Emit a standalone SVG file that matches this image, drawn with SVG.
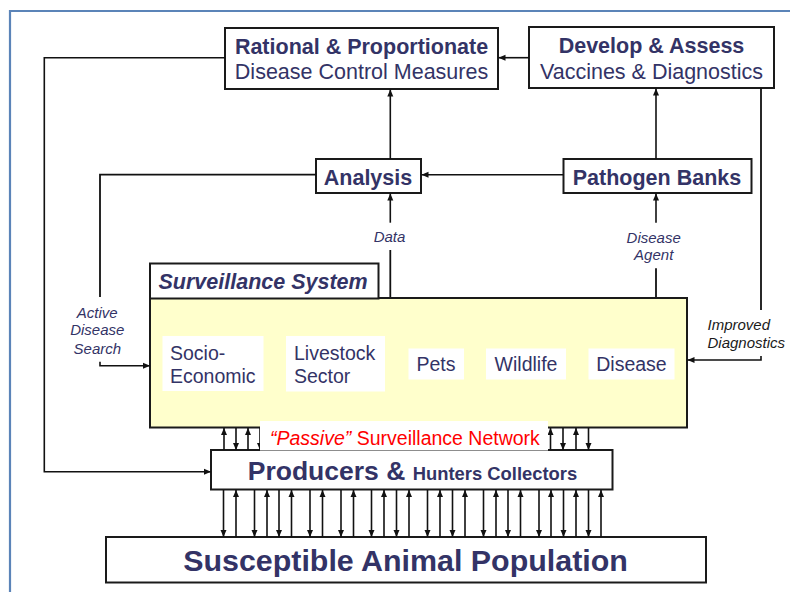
<svg xmlns="http://www.w3.org/2000/svg" width="790" height="592" viewBox="0 0 790 592">
<defs>
<style>
.box{fill:#fff;stroke:#1a1a1a;stroke-width:2}
.t{font-family:"Liberation Sans",Arial,sans-serif;fill:#333366}
.b{font-weight:bold}
.i{font-style:italic}
.big{font-size:21.5px}
.mid{font-size:19.5px}
.sm{font-size:15px}
.ln{fill:none;stroke:#111;stroke-width:1.8}
.ar{fill:none;stroke:#111;stroke-width:1.6;marker-end:url(#ah)}
</style>
<marker id="ah" markerUnits="userSpaceOnUse" markerWidth="8" markerHeight="7" refX="7" refY="3.5" orient="auto">
<path d="M0,0.5 L7,3.5 L0,6.5 z" fill="#111"/>
</marker>
</defs>
<rect width="790" height="592" fill="#fff"/>
<path d="M10,592 V11 H790" fill="none" stroke="#5B84B8" stroke-width="2.2"/>

<g id="rational">
<rect class="box" x="225" y="28" width="273" height="61"/>
<text class="t b big" x="361.5" y="53.5" text-anchor="middle">Rational &amp; Proportionate</text>
<text class="t big" x="361.5" y="79" text-anchor="middle">Disease Control Measures</text>
</g>
<g id="develop">
<rect class="box" x="529" y="27" width="245" height="61"/>
<text class="t b big" x="651.5" y="53" text-anchor="middle">Develop &amp; Assess</text>
<text class="t big" x="651.5" y="78.5" text-anchor="middle">Vaccines &amp; Diagnostics</text>
</g>
<g id="analysis">
<rect class="box" x="316" y="159" width="105" height="34"/>
<text class="t b big" x="368" y="184.5" text-anchor="middle">Analysis</text>
</g>
<g id="pathogen">
<rect class="box" x="563.5" y="159" width="188" height="34"/>
<text class="t b big" x="657" y="184.5" text-anchor="middle">Pathogen Banks</text>
</g>
<g id="surveillance">
<rect x="150" y="298" width="537" height="129.5" fill="#FFFFCC" stroke="#1a1a1a" stroke-width="2"/>
<rect class="box" x="150" y="263.5" width="228.5" height="35"/>
<text class="t b i big" x="158.5" y="288.5">Surveillance System</text>
<rect x="162.5" y="336" width="101" height="55" fill="#fff"/>
<text class="t mid" x="170" y="360">Socio-</text>
<text class="t mid" x="170" y="382.5">Economic</text>
<rect x="286" y="336" width="99" height="55.5" fill="#fff"/>
<text class="t mid" x="294" y="360">Livestock</text>
<text class="t mid" x="294" y="382.5">Sector</text>
<rect x="408.5" y="348.5" width="55.5" height="31" fill="#fff"/>
<text class="t mid" x="436" y="370.5" text-anchor="middle">Pets</text>
<rect x="486" y="348.5" width="80" height="31" fill="#fff"/>
<text class="t mid" x="526" y="370.5" text-anchor="middle">Wildlife</text>
<rect x="588.5" y="348.5" width="86" height="31" fill="#fff"/>
<text class="t mid" x="631.5" y="370.5" text-anchor="middle">Disease</text>
</g>
<g id="producers">
<rect class="box" x="211" y="450" width="401.5" height="39.5"/>
<text class="t b" x="412.5" y="479.5" text-anchor="middle"><tspan font-size="26.5">Producers &amp; </tspan><tspan font-size="18.4">Hunters Collectors</tspan></text>
</g>
<g id="population">
<rect class="box" x="106" y="537" width="600" height="45.5"/>
<text class="t b" x="405.5" y="570.5" text-anchor="middle" font-size="30.4">Susceptible Animal Population</text>
</g>

<g id="connectors">
<path class="ar" d="M529,57.7 H498.5"/>
<path class="ar" d="M390.3,159 V89.5"/>
<path class="ar" d="M656,159 V88.5"/>
<path class="ar" d="M563.5,174.7 H421.5"/>
<path class="ar" d="M225,57.7 H44.3 V471.7 H211"/>
<path class="ln" d="M316,174.7 H100 V297"/>
<path class="ar" d="M100,361.7 V365.7 H150"/>
<path class="ln" d="M390.3,297 V250"/>
<path class="ar" d="M390.3,222.7 V193.5"/>
<path class="ln" d="M656,297 V268.3"/>
<path class="ar" d="M656,222.7 V193.5"/>
<path class="ln" d="M761,88 V310"/>
<path class="ar" d="M761,356 V360 H687.5"/>
<g id="passive-arrows">
<path class="ar" d="M224,450 V428"/>
<path class="ar" d="M236,428 V450"/>
<path class="ar" d="M248,450 V428"/>
<path class="ar" d="M260,428 V450"/>
<path class="ar" d="M550.5,450 V428"/>
<path class="ar" d="M563,428 V450"/>
<path class="ar" d="M576,450 V428"/>
<path class="ar" d="M588.5,428 V450"/>
</g>
<g id="population-arrows">
<path class="ar" d="M223.5,490 V537"/>
<path class="ar" d="M236,537 V490"/>
<path class="ar" d="M254.5,490 V537"/>
<path class="ar" d="M267,537 V490"/>
<path class="ar" d="M279,490 V537"/>
<path class="ar" d="M291.5,537 V490"/>
<path class="ar" d="M310,490 V537"/>
<path class="ar" d="M322.5,537 V490"/>
<path class="ar" d="M341,490 V537"/>
<path class="ar" d="M353.5,537 V490"/>
<path class="ar" d="M371.5,490 V537"/>
<path class="ar" d="M384,537 V490"/>
<path class="ar" d="M396.5,490 V537"/>
<path class="ar" d="M409,537 V490"/>
<path class="ar" d="M427.5,490 V537"/>
<path class="ar" d="M440,537 V490"/>
<path class="ar" d="M452.5,490 V537"/>
<path class="ar" d="M465,537 V490"/>
<path class="ar" d="M483.5,490 V537"/>
<path class="ar" d="M496,537 V490"/>
<path class="ar" d="M508,490 V537"/>
<path class="ar" d="M520.5,537 V490"/>
<path class="ar" d="M539,490 V537"/>
<path class="ar" d="M551,537 V490"/>
<path class="ar" d="M563.5,490 V537"/>
<path class="ar" d="M576,537 V490"/>
<path class="ar" d="M588.5,490 V537"/>
<path class="ar" d="M601,537 V490"/>
</g>
</g>

<g id="labels">
<text class="t i sm" x="97.3" y="317.5" text-anchor="middle">Active</text>
<text class="t i sm" x="97.3" y="334.5" text-anchor="middle">Disease</text>
<text class="t i sm" x="97.3" y="353.5" text-anchor="middle">Search</text>
<text class="t i sm" x="389.5" y="242" text-anchor="middle">Data</text>
<text class="t i sm" x="653.7" y="242.7" text-anchor="middle">Disease</text>
<text class="t i sm" x="653.7" y="259.5" text-anchor="middle">Agent</text>
<text class="t i sm" x="707.5" y="330" style="fill:#1a1a1a">Improved</text>
<text class="t i sm" x="707.5" y="347.5" style="fill:#1a1a1a">Diagnostics</text>
</g>

<g id="passive-label">
<rect x="260" y="421" width="288" height="29.5" fill="#fff"/>
<text x="270" y="444.5" font-family="'Liberation Sans',Arial,sans-serif" font-size="19.5" fill="#FF0000"><tspan font-style="italic">“Passive”</tspan> Surveillance Network</text>
</g>
</svg>
